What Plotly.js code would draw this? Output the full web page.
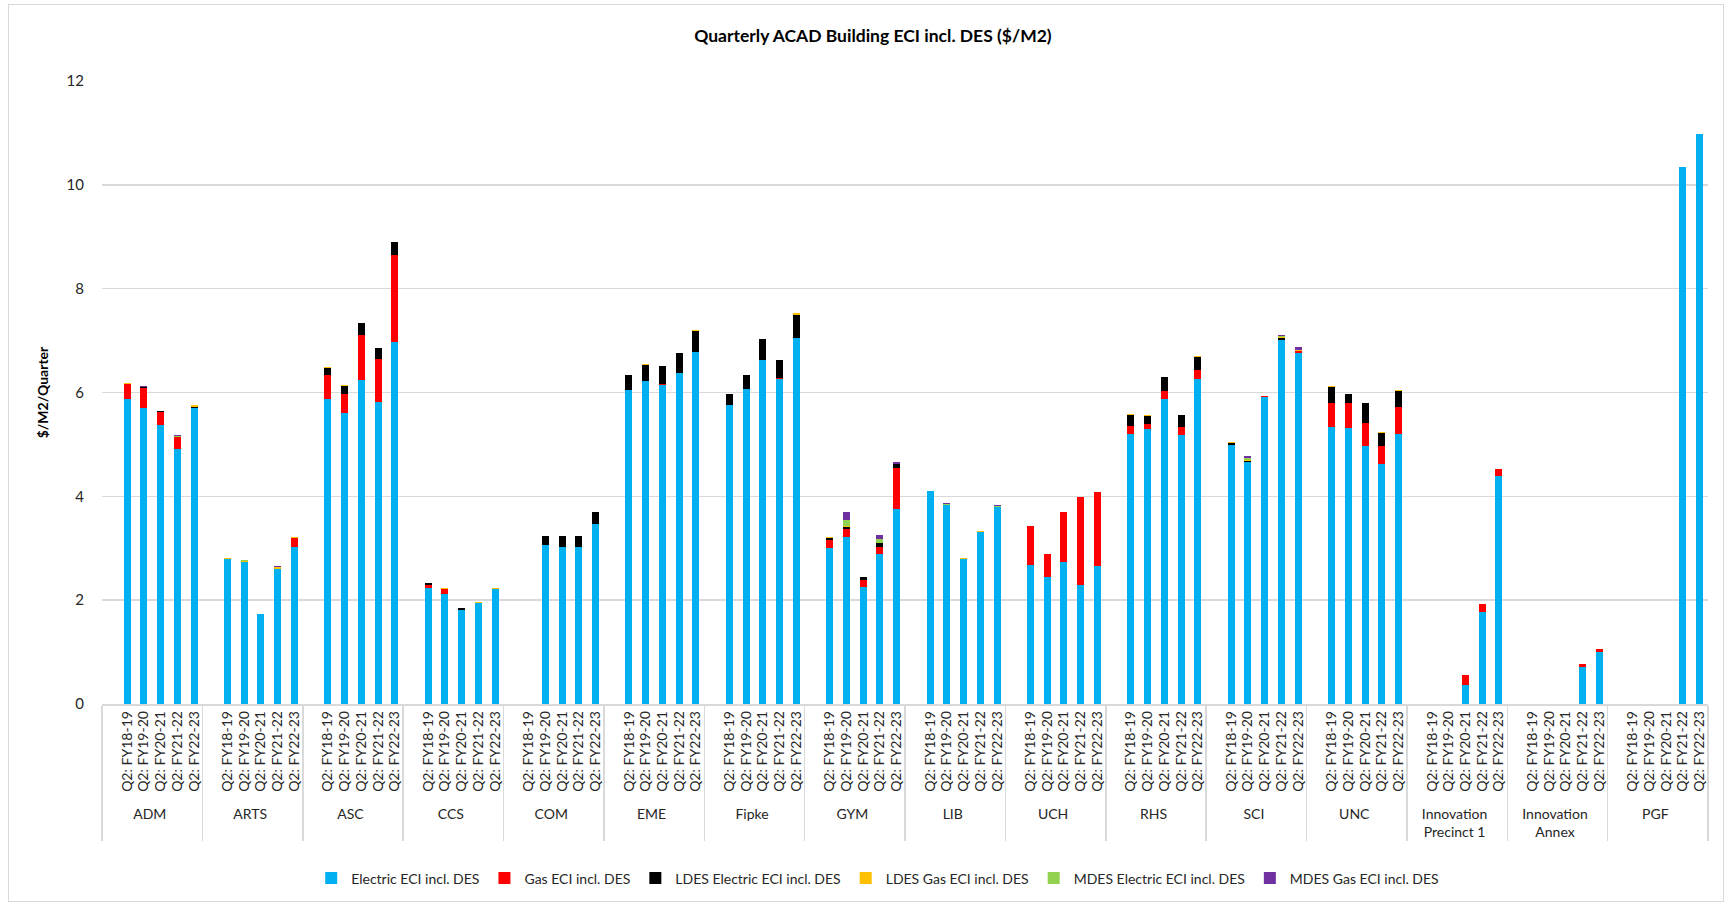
<!DOCTYPE html>
<html><head><meta charset="utf-8">
<script src="https://cdn.plot.ly/plotly-3.0.1.min.js"></script>
<style>
body{margin:0;background:#fff}
#chart{position:absolute;left:0;top:0;width:1732px;height:907px}
#frame{position:absolute;left:8px;top:4px;width:1716px;height:898px;border:1px solid #d9d9d9;box-sizing:border-box;pointer-events:none}
</style>
</head><body><div id="chart"></div><div id="frame"></div>
<script>
const buildings = ['ADM','ARTS','ASC','CCS','COM','EME','Fipke','GYM','LIB','UCH','RHS','SCI','UNC','Innovation<br>Precinct 1','Innovation<br>Annex','PGF'];
const quarters = ['Q2: FY18-19','Q2: FY19-20','Q2: FY20-21','Q2: FY21-22','Q2: FY22-23'];

// 5 values per building, in the order of `buildings`
const electric = [
  5.87,5.71,5.37,4.91,5.70,  2.80,2.73,1.73,2.60,3.03,  5.88,5.60,6.25,5.81,6.98,  2.24,2.12,1.81,1.94,2.21,
  null,3.07,3.02,3.03,3.47,  6.04,6.22,6.14,6.38,6.78,  5.75,6.06,6.62,6.26,7.05,  3.01,3.22,2.26,2.88,3.76,
  4.10,3.83,2.80,3.32,3.79,  2.68,2.45,2.74,2.30,2.66,  5.21,5.29,5.87,5.19,6.26,  4.98,4.67,5.91,7.02,6.76,
  5.34,5.32,4.96,4.62,5.21,  null,null,0.37,1.77,4.40,  null,null,null,0.71,1.00,  null,null,null,10.34,10.98];
const gas = [
  0.30,0.38,0.26,0.23,0,     0,0,0,0,0.17,            0.45,0.38,0.86,0.84,1.66,  0.06,0.09,0.01,0,0,
  null,0,0,0,0,              0,0,0.02,0,0,            0,0.01,0,0.02,0,           0.14,0.15,0.13,0.15,0.79,
  0,0,0,0,0,                 0.75,0.44,0.96,1.69,1.43,0.15,0.10,0.16,0.14,0.18,  0,0,0.02,0,0.03,
  0.45,0.47,0.46,0.34,0.52,  null,null,0.18,0.16,0.13,null,null,null,0.06,0.06,  null,null,null,0,0];
const ldesElectric = [
  0,0.01,0.01,0,0.03,        0,0,0.01,0,0,            0.15,0.15,0.22,0.21,0.25,  0.03,0,0.02,0,0,
  null,0.17,0.22,0.20,0.23,  0.29,0.31,0.35,0.38,0.41,0.22,0.26,0.42,0.34,0.44,  0.05,0.04,0.05,0.07,0.07,
  0,0,0,0,0,                 0,0,0,0,0,               0.21,0.16,0.26,0.23,0.25,  0.05,0.01,0,0.03,0,
  0.32,0.18,0.37,0.26,0.30,  null,null,0,0,0,         null,null,null,0,0,        null,null,null,0,0];
const ldesGas = [
  0.02,0,0,0,0.02,           0.02,0.03,0,0.03,0.01,   0.01,0.01,0,0,0.01,        0.01,0.03,0,0.02,0.03,
  null,0,0,0.01,0,           0.01,0.01,0,0.01,0.01,   0.01,0.01,0,0.01,0.05,     0.01,0.01,0,0.01,0,
  0.01,0.01,0.01,0.01,0.01,  0,0,0,0,0,               0.02,0.01,0,0.01,0.02,     0.02,0.02,0.01,0.02,0.02,
  0.01,0.01,0,0.01,0.01,     null,null,0,0,0,         null,null,null,0.01,0,     null,null,null,0,0];
const mdesElectric = [
  0,0,0,0.02,0,              0,0.01,0,0.01,0,         0,0,0,0,0,                 0,0,0,0,0,
  null,0,0,0,0,              0,0,0,0,0,               0,0,0,0,0,                 0,0.13,0,0.06,0.01,
  0,0.01,0,0,0.02,           0,0,0,0,0,               0,0,0,0,0,                 0,0.04,0,0.01,0,
  0,0,0,0,0,                 null,null,0,0,0,         null,null,null,0,0,        null,null,null,0,0];
const mdesGas = [
  0,0.02,0,0.02,0,           0,0.01,0,0.02,0,         0,0,0,0,0,                 0,0,0,0.01,0,
  null,0,0,0,0,              0,0,0,0,0,               0,0,0,0,0,                 0,0.15,0,0.08,0.03,
  0,0.02,0,0.01,0.02,        0,0,0,0,0,               0,0,0,0,0,                 0,0.04,0,0.02,0.06,
  0,0,0,0,0,                 null,null,0,0,0,         null,null,null,0,0,        null,null,null,0,0];

const seriesNames = ['Electric ECI incl. DES','Gas ECI incl. DES','LDES Electric ECI incl. DES','LDES Gas ECI incl. DES','MDES Electric ECI incl. DES','MDES Gas ECI incl. DES'];
const seriesColors = ['#00B0F0','#FF0000','#000000','#FFC000','#92D050','#7030A0'];
const seriesData = [electric, gas, ldesElectric, ldesGas, mdesElectric, mdesGas];

// Excel layout: each building group starts with an empty slot
const BLANK = '\u00a0';
const xOuter = [], xInner = [];
buildings.forEach(b => {
  xOuter.push(b); xInner.push(BLANK);
  quarters.forEach(q => { xOuter.push(b); xInner.push(q); });
});
function expand(arr){
  const out = [];
  buildings.forEach((b,i) => {
    out.push(null);
    for (let j=0;j<quarters.length;j++) out.push(arr[i*quarters.length+j]);
  });
  return out;
}

const FONT = 'Lato, "Open Sans", sans-serif';
const traces = seriesData.map((d,k) => ({
  type:'bar', name: seriesNames[k], x:[xOuter, xInner], y: expand(d),
  marker:{color: seriesColors[k], line:{width:0}}, hoverinfo:'name+y'
}));

const layout = {
  width:1732, height:907,
  margin:{l:102, r:24, t:81, b:203},
  paper_bgcolor:'rgba(0,0,0,0)', plot_bgcolor:'#fff',
  barmode:'stack', bargap:0.58,
  font:{family:FONT, color:'#262626', size:14},
  title:{text:'Quarterly ACAD Building ECI incl. DES ($/M2)', x:0.504, xref:'container', y:0.960, yref:'container', yanchor:'middle',
         font:{family:FONT, size:17.5, weight:'bold', color:'#000'}},
  xaxis:{type:'multicategory', tickmode:'linear', tick0:0, dtick:1, tickangle:-90,
         tickfont:{family:FONT, size:14, color:'#262626'},
         showdividers:true, dividercolor:'#d9d9d9', dividerwidth:1.5,
         showline:true, linecolor:'#d9d9d9', linewidth:1.5, showgrid:false, ticks:''},
  yaxis:{range:[0,12], dtick:2, tick0:0, gridcolor:'#d9d9d9', gridwidth:1.5, zeroline:false, showline:false,
         ticks:'outside', ticklen:14, tickcolor:'rgba(0,0,0,0)', tickfont:{family:FONT, size:15, color:'#262626'},
         title:{text:'$/M2/Quarter', standoff:14, font:{family:FONT, size:14, weight:'bold', color:'#000'}}},
  legend:{orientation:'h', x:0.483, xanchor:'center', y:-0.28, yanchor:'middle', font:{family:FONT, size:14, color:'#262626'}, traceorder:'normal'},
  showlegend:true
};
Plotly.newPlot('chart', traces, layout, {displayModeBar:false, staticPlot:true});
</script></body></html>
